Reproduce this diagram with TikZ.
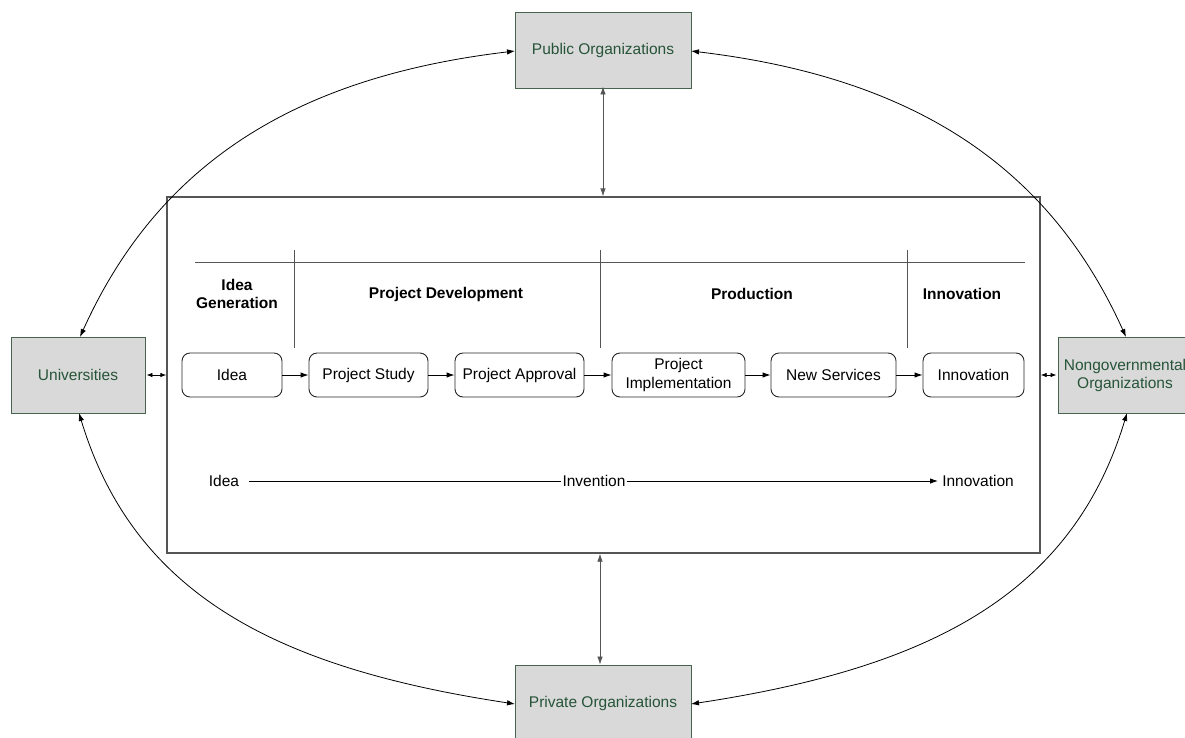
\documentclass[tikz,border=0pt]{standalone}
\usepackage{fontspec}
\setmainfont{Liberation Sans}
\usetikzlibrary{arrows.meta}
\definecolor{orgtext}{RGB}{38,84,56}
\definecolor{orgline}{RGB}{72,100,78}
\definecolor{orgfill}{RGB}{217,217,217}
\definecolor{frame}{RGB}{85,85,85}
\begin{document}
\begin{tikzpicture}[x=1pt,y=-1pt,
  font=\fontsize{15.5}{18}\selectfont,
  >={Latex[length=8pt,width=5.5pt]},
  org/.style={draw=orgline, line width=0.9pt, fill=orgfill, text=orgtext, minimum height=76pt, align=center, inner sep=0pt},
  stagebox/.style={draw=black!85, line width=0.9pt, rounded corners=8pt, minimum height=44pt, align=center, inner sep=2pt, font=\fontsize{15.5}{19}\selectfont},
  phase/.style={font=\fontsize{15.5}{18}\selectfont\bfseries, align=center},
  flow/.style={->, line width=0.9pt},
  link/.style={<->, line width=0.8pt},
  tiny/.style={<->, line width=0.8pt, >={Latex[length=6pt,width=4.5pt]}},
  sep/.style={draw=frame, line width=1pt}
]
\clip (0,0) rectangle (1185,737);
\fill[white] (0,0) rectangle (1185,737);

% outer organisations
\node[org, minimum width=176pt] (pub) at (603,50) {Public Organizations};
\node[org, minimum width=134pt] (uni) at (78,375) {Universities};
\node[org, minimum width=134pt] (ngo) at (1125,375) {Nongovernmental\\Organizations};
\node[org, minimum width=176pt] (pri) at (603,703) {Private Organizations};

% main frame
\node[draw=frame, line width=1.3pt, minimum width=873pt, minimum height=356pt, inner sep=0pt] (main) at (603.5,375) {};

% phase lines
\coordinate (hl) at (195,262);
\coordinate (hr) at (1025,262);
\draw[sep] (hl) -- (hr);
\coordinate (v1t) at (294,250); \coordinate (v1b) at (294,348);
\coordinate (v2t) at (600,250); \coordinate (v2b) at (600,348);
\coordinate (v3t) at (907,250); \coordinate (v3b) at (907,348);
\draw[sep] (v1t) -- (v1b);
\draw[sep] (v2t) -- (v2b);
\draw[sep] (v3t) -- (v3b);

% phase headers
\node[phase] (ph1) at (237,294) {Idea\\Generation};
\node[phase] (ph2) at (446,294) {Project Development};
\node[phase] (ph3) at (752,294) {Production};
\node[phase] (ph4) at (962,294) {Innovation};

% stages
\node[stagebox, minimum width=100pt] (s1) at (232,375) {Idea};
\node[stagebox, minimum width=119pt] (s2) at (368.5,375) {Project Study};
\node[stagebox, minimum width=129pt] (s3) at (519.5,375) {Project Approval};
\node[stagebox, minimum width=133pt] (s4) at (678.5,375) {Project\\Implementation};
\node[stagebox, minimum width=125pt] (s5) at (833.5,375) {New Services};
\node[stagebox, minimum width=101pt] (s6) at (973.5,375) {Innovation};
\draw[flow] (s1) -- (s2);
\draw[flow] (s2) -- (s3);
\draw[flow] (s3) -- (s4);
\draw[flow] (s4) -- (s5);
\draw[flow] (s5) -- (s6);

% idea -> invention -> innovation
\node[inner sep=1pt] (b1) at (224,481) {Idea};
\node[inner sep=1pt] (b2) at (594,481) {Invention};
\node[inner sep=1pt] (b3) at (978,481) {Innovation};
\draw[line width=0.9pt, shorten <=9pt] (b1) -- (b2);
\draw[flow, shorten >=3pt] (b2) -- (b3);

% links to the frame
\draw[link, draw=frame] ([yshift=2pt]pub.south) -- (pub.south |- main.north);
\draw[link, draw=frame] ([xshift=-3pt]pri.north) -- ([xshift=-3pt]pri.north |- main.south);
\draw[tiny] ([xshift=1pt]uni.east) -- (uni.east -| main.west);
\draw[tiny] (ngo.west -| main.east) -- ([xshift=-1pt]ngo.west);

% elliptic ring
\coordinate (unitop) at (80,337);
\coordinate (unibot) at (79,413);
\coordinate (ngotop) at (1126,337);
\coordinate (ngobot) at (1127,413);
\coordinate (pubw) at (515,51);
\coordinate (pube) at (691,51);
\coordinate (priw) at (515,704);
\coordinate (prie) at (691,704);
\draw[link] (pubw) .. controls (295,77) and (158,164) .. (unitop);
\draw[link] (pube) .. controls (911,77) and (1048,164) .. (ngotop);
\draw[link] (unibot) .. controls (134,595) and (277,668) .. (priw);
\draw[link] (ngobot) .. controls (1072,595) and (929,668) .. (prie);
\end{tikzpicture}
\end{document}
